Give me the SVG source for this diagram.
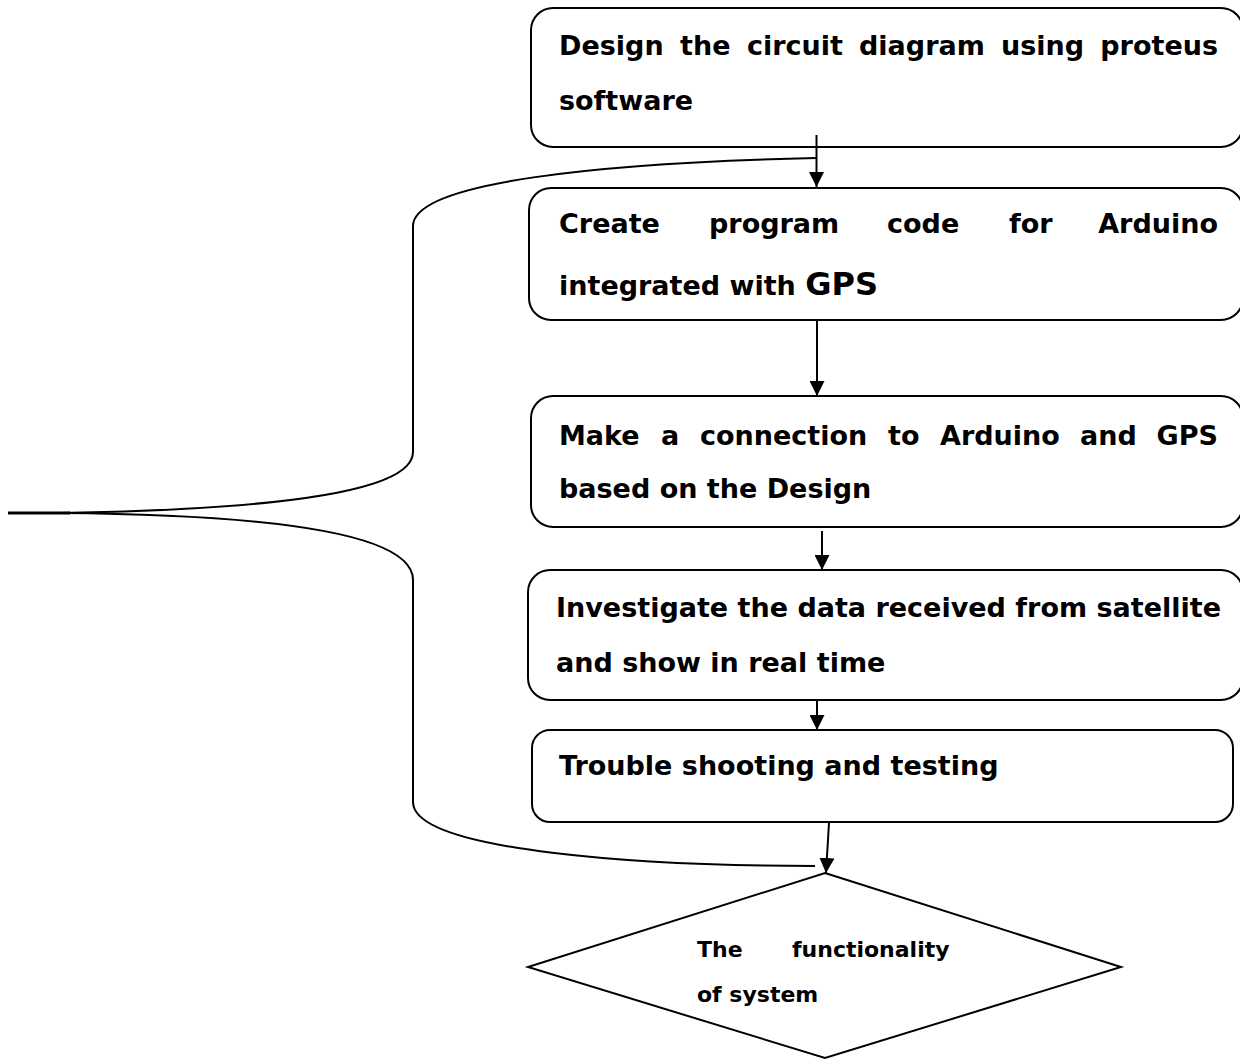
<svg xmlns="http://www.w3.org/2000/svg" width="1240" height="1060" viewBox="0 0 1240 1060">
<defs>
<marker id="ah" markerWidth="15" markerHeight="15" refX="15" refY="7.5" orient="auto" markerUnits="userSpaceOnUse">
<path d="M0,0 L15,7.5 L0,15 Z" fill="#000"/>
</marker>
<style>
.box{fill:#fff;stroke:#000;stroke-width:2}
.t{font-family:"DejaVu Sans",Verdana,sans-serif;font-weight:bold;font-size:27px;fill:#000}
.s{font-family:"DejaVu Sans",Verdana,sans-serif;font-weight:bold;font-size:22px;fill:#000}
.e{text-anchor:end}
.ln{fill:none;stroke:#000;stroke-width:2}
</style>
</defs>
<rect width="1240" height="1060" fill="#fff"/>
<g id="n1">
<rect class="box" x="531" y="8" width="712" height="139" rx="22"/>
<text class="t" y="55"><tspan x="559">Design</tspan><tspan x="680">the</tspan><tspan x="747">circuit</tspan><tspan x="859">diagram</tspan><tspan x="1001">using</tspan></text>
<text class="t e" x="1218" y="55">proteus</text>
<text class="t" x="559" y="110">software</text>
</g>
<g id="n2">
<rect class="box" x="529" y="188" width="714" height="132" rx="22"/>
<text class="t" y="233"><tspan x="559">Create</tspan><tspan x="709">program</tspan><tspan x="887">code</tspan><tspan x="1009">for</tspan></text>
<text class="t e" x="1218" y="233">Arduino</text>
<text class="t" x="559" y="295">integrated with <tspan font-size="32">GPS</tspan></text>
</g>
<g id="n3">
<rect class="box" x="531" y="396" width="712" height="131" rx="22"/>
<text class="t" y="445"><tspan x="559">Make</tspan><tspan x="661">a</tspan><tspan x="700">connection</tspan><tspan x="888">to</tspan><tspan x="940">Arduino</tspan><tspan x="1080">and</tspan></text>
<text class="t e" x="1218" y="445">GPS</text>
<text class="t" x="559" y="498">based on the Design</text>
</g>
<g id="n4">
<rect class="box" x="528" y="570" width="715" height="130" rx="22"/>
<text class="t" x="556" y="617">Investigate the data received from satellite</text>
<text class="t" x="556" y="672">and show in real time</text>
</g>
<g id="n5">
<rect class="box" x="532" y="730" width="701" height="92" rx="18"/>
<text class="t" x="559" y="775">Trouble shooting and testing</text>
</g>
<g id="n6">
<polygon class="box" points="825,873 1121,967 825,1058 528,967"/>
<text class="s" y="957"><tspan x="697">The</tspan><tspan x="792">functionality</tspan></text>
<text class="s" x="697" y="1002">of system</text>
</g>
<g id="connectors">
<line class="ln" x1="816.5" y1="135" x2="816.5" y2="187" marker-end="url(#ah)"/>
<line class="ln" x1="817" y1="321" x2="817" y2="396" marker-end="url(#ah)"/>
<line class="ln" x1="822" y1="531" x2="822" y2="570" marker-end="url(#ah)"/>
<line class="ln" x1="817" y1="700" x2="817" y2="730" marker-end="url(#ah)"/>
<line class="ln" x1="829" y1="823" x2="826" y2="873" marker-end="url(#ah)"/>
<path class="ln" d="M816,158 C600,163 413,182 413,226 L413,452 C413,497 240,510 60,513"/>
<path class="ln" d="M60,513 C300,515 413,538 413,580 L413,802 C413,852 650,866 815,866"/>
<line x1="8" y1="513" x2="70" y2="513" stroke="#000" stroke-width="3"/>
</g>
</svg>
